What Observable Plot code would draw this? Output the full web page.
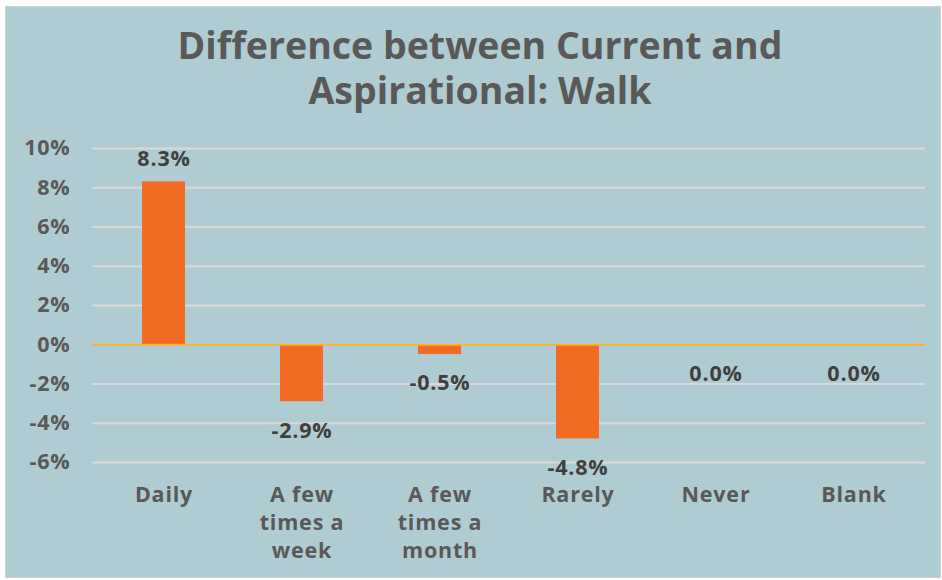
<!DOCTYPE html>
<html>
<head>
<meta charset="utf-8">
<script src="https://cdn.jsdelivr.net/npm/d3@7"></script>
<script src="https://cdn.jsdelivr.net/npm/@observablehq/plot@0.6"></script>
<style>
  html, body { margin: 0; padding: 0; background: #ffffff; }
  #frame { position: absolute; left: 5px; top: 6px; width: 934px; height: 570px; background: #AFCCD2; border: 1px solid #c9d3d6; }
  .title { position: absolute; left: 0; width: 960px; height: 45px; text-align: center; font-family: "Open Sans", sans-serif; font-weight: 700; font-size: 37.5px; line-height: 45px; color: #595959; }
  #chart { position: absolute; left: 0; top: 130px; }
  #chart svg text { letter-spacing: 0.8px; }
</style>
</head>
<body>
<div id="frame"></div>
<div class="title" style="top:22px">Difference between Current and</div>
<div class="title" style="top:67px">Aspirational: Walk</div>
<div id="chart"></div>
<script>
const categories = ["Daily", "A few times a week", "A few times a month", "Rarely", "Never", "Blank"];
const tickLabels = ["Daily", "A few\ntimes a\nweek", "A few\ntimes a\nmonth", "Rarely", "Never", "Blank"];
const values = [8.3, -2.9, -0.5, -4.8, 0.0, 0.0];
const yTicks = [-6, -4, -2, 0, 2, 4, 6, 8, 10];

const data = categories.map((c, i) => ({category: c, value: values[i], label: tickLabels[i]}));
const labelOf = new Map(data.map(d => [d.category, d.label]));

const font = "'Open Sans', sans-serif";
const fs = 21.5;
const chart = Plot.plot({
  width: 942,
  height: 450,
  marginTop: 18,
  marginBottom: 118,
  marginLeft: 92,
  marginRight: 17,
  style: {background: "transparent", fontFamily: font, fontWeight: 700, fontSize: fs + "px", color: "#595959"},
  x: {domain: categories, paddingInner: 0.69, paddingOuter: 0.345, label: null},
  y: {domain: [-6, 10], ticks: yTicks, label: null},
  marks: [
    Plot.gridY(yTicks, {stroke: "#D9D9D9", strokeOpacity: 1, strokeWidth: 2}),
    Plot.barY(data, {x: "category", y: "value", fill: "#F26B22"}),
    Plot.ruleY([0], {stroke: "#F5B335", strokeWidth: 2}),
    Plot.axisY(yTicks, {tickSize: 0, tickPadding: 22, tickFormat: d => d + "%", fill: "#595959", fontSize: fs, fontWeight: 700}),
    Plot.axisX({tickSize: 0, tickPadding: 20, tickFormat: d => labelOf.get(d), lineAnchor: "top", lineHeight: 1.3, fill: "#595959", fontSize: fs, fontWeight: 700}),
    Plot.text(data.filter(d => d.value > 0), {x: "category", y: "value", text: d => d.value.toFixed(1) + "%", dy: -23, fill: "#404040", fontSize: fs, fontWeight: 700}),
    Plot.text(data.filter(d => d.value <= 0), {x: "category", y: "value", text: d => d.value.toFixed(1) + "%", dy: 29, fill: "#404040", fontSize: fs, fontWeight: 700})
  ]
});
document.getElementById("chart").appendChild(chart);
</script>
</body>
</html>
